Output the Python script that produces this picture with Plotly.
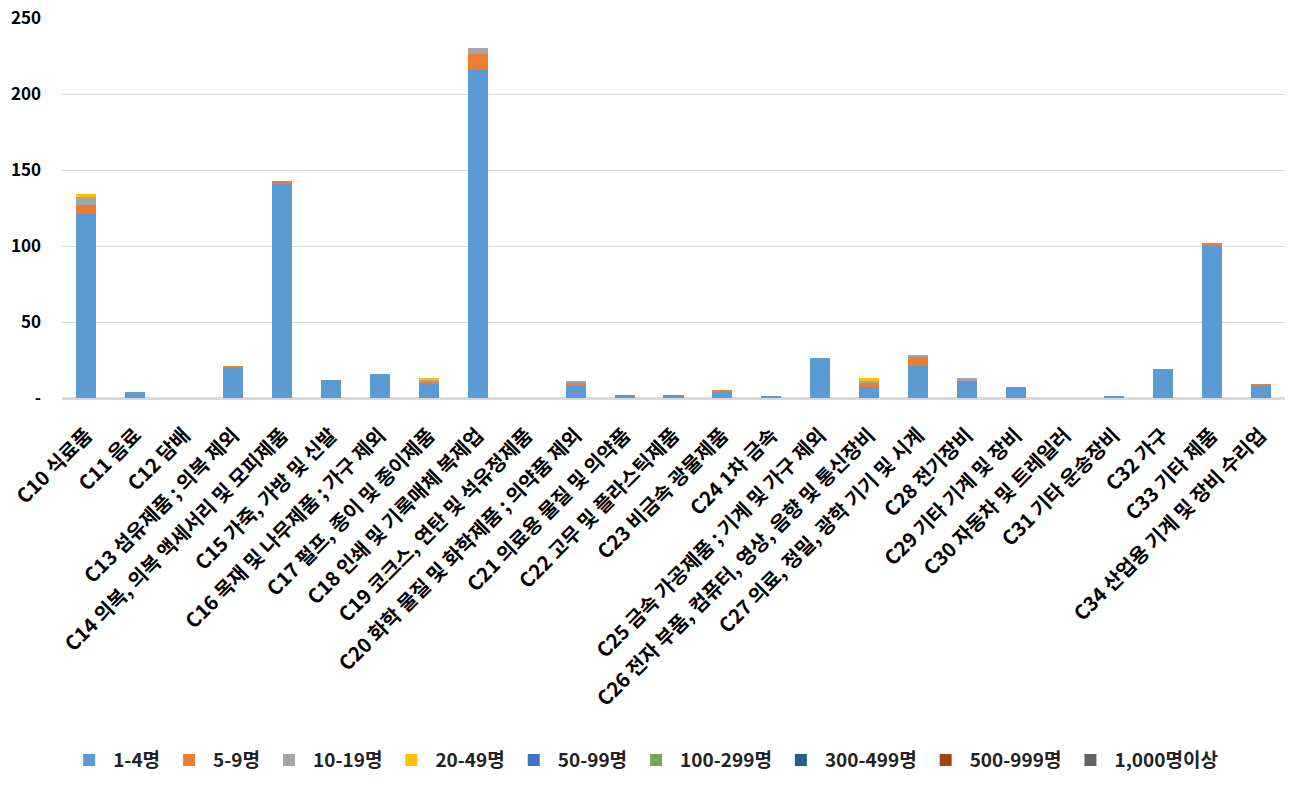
import plotly.graph_objects as go

categories = [
    "C10 식료품", "C11 음료", "C12 담배", "C13 섬유제품 ; 의복 제외",
    "C14 의복, 의복 액세서리 및 모피제품", "C15 가죽, 가방 및 신발",
    "C16 목재 및 나무제품 ; 가구 제외", "C17 펄프, 종이 및 종이제품",
    "C18 인쇄 및 기록매체 복제업", "C19 코크스, 연탄 및 석유정제품",
    "C20 화학 물질 및 화학제품 ; 의약품 제외", "C21 의료용 물질 및 의약품",
    "C22 고무 및 플라스틱제품", "C23 비금속 광물제품", "C24 1차 금속",
    "C25 금속 가공제품 ; 기계 및 가구 제외",
    "C26 전자 부품, 컴퓨터, 영상, 음향 및 통신장비",
    "C27 의료, 정밀, 광학 기기 및 시계", "C28 전기장비", "C29 기타 기계 및 장비",
    "C30 자동차 및 트레일러", "C31 기타 운송장비", "C32 가구", "C33 기타 제품",
    "C34 산업용 기계 및 장비 수리업",
]

series_names = ["1-4명", "5-9명", "10-19명", "20-49명", "50-99명",
                "100-299명", "300-499명", "500-999명", "1,000명이상"]

s_1_4 = [121, 4, 0, 20, 141, 12, 16, 9, 216, 0, 8, 2, 2, 4, 1, 26, 7, 21, 11, 7, 0, 1, 19, 100, 8]
s_5_9 = [6, 0, 0, 1, 2, 0, 0, 2, 10, 0, 2, 0, 0, 1, 0, 0, 3, 6, 0, 0, 0, 0, 0, 2, 1]
s_10_19 = [5, 0, 0, 0, 0, 0, 0, 1, 4, 0, 1, 0, 0, 0, 0, 0, 1, 1, 2, 0, 0, 0, 0, 0, 0]
s_20_49 = [2, 0, 0, 0, 0, 0, 0, 1, 0, 0, 0, 0, 0, 0, 0, 0, 2, 0, 0, 0, 0, 0, 0, 0, 0]
s_50_99 = [0] * 25
s_100_299 = [0] * 25
s_300_499 = [0] * 25
s_500_999 = [0] * 25
s_1000 = [0] * 25

series_values = [s_1_4, s_5_9, s_10_19, s_20_49, s_50_99,
                 s_100_299, s_300_499, s_500_999, s_1000]
colors = ["#5B9BD5", "#ED7D31", "#A5A5A5", "#FFC000", "#4472C4",
          "#70AD47", "#255E91", "#9E480E", "#636363"]

y_tickvals = [0, 50, 100, 150, 200, 250]
y_ticktext = ["-", "50", "100", "150", "200", "250"]

font_family = "Noto Sans CJK KR"

fig = go.Figure()
for name, vals, col in zip(series_names, series_values, colors):
    fig.add_trace(go.Bar(
        x=categories, y=vals, name=name,
        marker=dict(color=col, line=dict(width=0)),
    ))

fig.update_layout(
    barmode="stack",
    bargap=0.59,
    width=1302, height=786,
    margin=dict(l=62, r=17, t=18, b=388, autoexpand=False),
    plot_bgcolor="white",
    paper_bgcolor="white",
    font=dict(family=font_family, color="black"),
    legend=dict(
        orientation="h",
        x=0.476, xanchor="center",
        y=-0.953, yanchor="middle",
        font=dict(size=19, family=font_family, color="#222222", weight="bold"),
        itemwidth=38,
        traceorder="normal",
    ),
    xaxis=dict(
        tickangle=-45,
        tickfont=dict(size=20, family=font_family, color="black", weight="bold"),
        showline=True, linecolor="#D9D9D9", linewidth=1.5,
        ticks="", automargin=False, ticklabelstandoff=16,
    ),
    yaxis=dict(
        range=[0, 250],
        tickvals=y_tickvals, ticktext=y_ticktext,
        tickfont=dict(size=17, family=font_family, color="black", weight="bold"),
        showgrid=True, gridcolor="#D9D9D9", gridwidth=1,
        zeroline=True, zerolinecolor="#D9D9D9", zerolinewidth=1.5,
        ticks="", ticklabelstandoff=20, automargin=False,
        ticklabeloverflow="allow",
    ),
)

fig.write_html("out.html", config={"displayModeBar": False},
               post_script="document.body.style.margin='0';")
